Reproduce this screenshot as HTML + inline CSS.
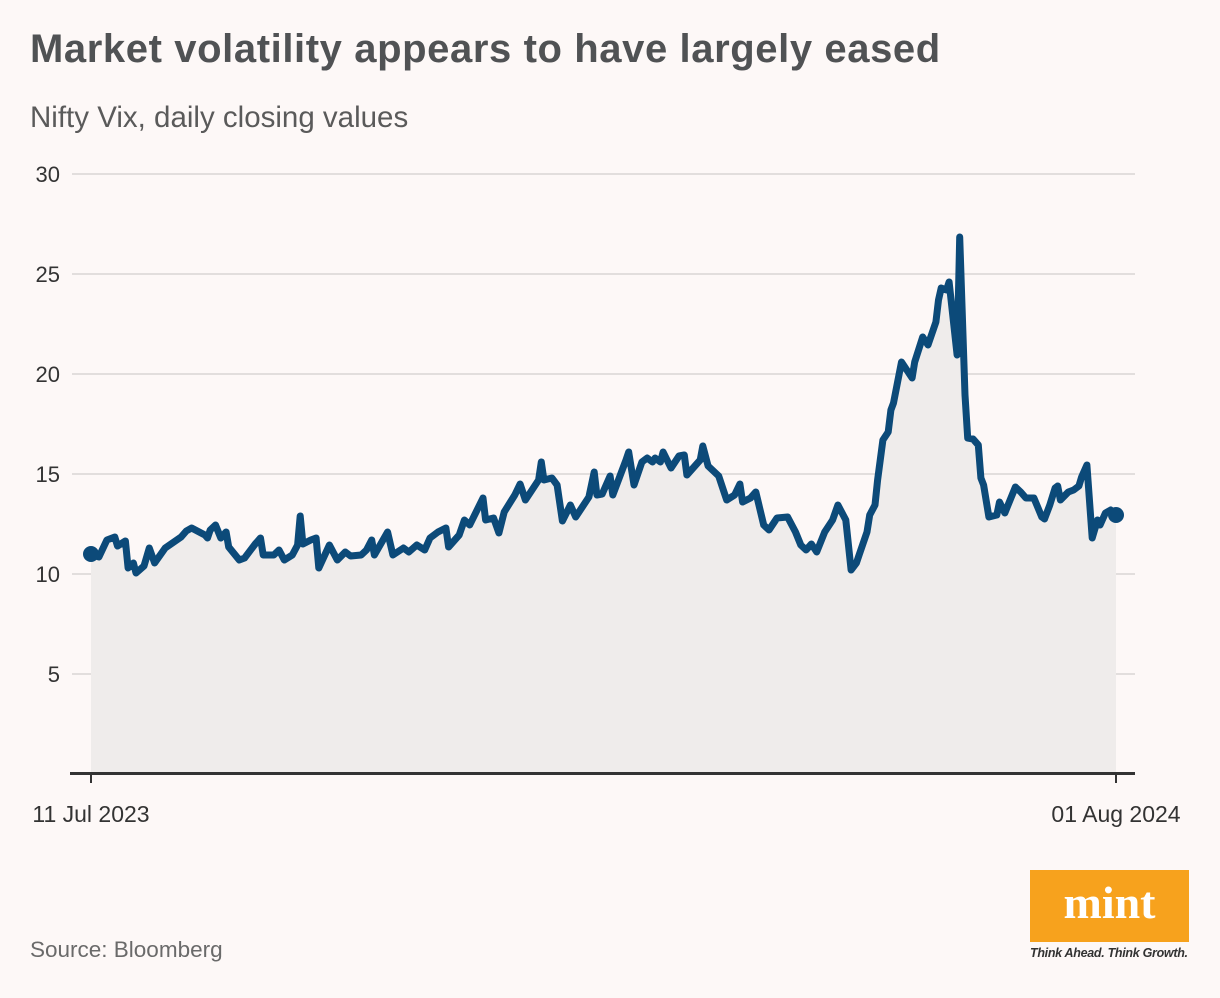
<!DOCTYPE html>
<html><head><meta charset="utf-8"><style>
body{margin:0;background:#fdf8f7;}
#root{position:relative;width:1220px;height:998px;background:#fdf8f7;font-family:"Liberation Sans",sans-serif;overflow:hidden;}
.title{position:absolute;left:30px;top:27px;font-size:40px;font-weight:bold;color:#505254;letter-spacing:0.6px;white-space:nowrap;}
.sub{position:absolute;left:30px;top:101px;font-size:29.5px;color:#5a5a5a;white-space:nowrap;}
.src{position:absolute;left:30px;top:937px;font-size:22.5px;color:#6a6a6a;}
.logo{position:absolute;left:1030px;top:870px;width:159px;height:72px;background:#f7a21d;color:#fff;font-family:"Liberation Serif",serif;font-weight:bold;font-size:46px;text-align:center;line-height:66px;}
.tag{position:absolute;left:1030px;top:946px;font-size:12.5px;font-style:italic;font-weight:bold;color:#333;white-space:nowrap;letter-spacing:-0.3px;}
</style></head><body>
<div id="root">
<div class="title">Market volatility appears to have largely eased</div>
<div class="sub">Nifty Vix, daily closing values</div>
<svg id="chart" width="1220" height="998" style="position:absolute;left:0;top:0"></svg>
<div class="src">Source: Bloomberg</div>
<div class="logo">mint</div>
<div class="tag">Think Ahead. Think Growth.</div>
</div>
<script>
const days=[0,3,6,9,10,13,14,16,17,20,22,24,28,34,36,38,43,44,45,47,49,51,52,56,58,62,64,65,69,71,73,76,78,79,80,83,85,86,90,93,96,98,102,104,106,107,112,114,118,120,123,126,128,131,134,135,139,141,143,148,149,152,154,156,160,162,164,169,170,171,174,176,178,181,183,188,190,191,193,196,197,202,203,205,208,210,212,213,215,216,219,222,224,225,230,231,233,237,239,240,243,245,246,249,251,254,256,259,263,266,268,270,272,274,277,280,282,285,287,289,290,293,294,296,297,299,301,302,303,306,308,310,311,314,316,319,320,321,323,324,327,328,330,331,333,335,336,337,339,342,343,345,349,351,353,356,359,360,362,364,365,366,369,371,373,374,376,378,380,381,383,385,387];
const vix=[11.0,10.85,11.7,11.85,11.4,11.65,10.3,10.55,10.05,10.4,11.3,10.55,11.3,11.85,12.15,12.3,11.95,11.8,12.2,12.45,11.8,12.1,11.35,10.7,10.8,11.5,11.8,10.95,10.95,11.2,10.7,10.95,11.45,12.9,11.5,11.7,11.8,10.3,11.45,10.7,11.1,10.9,10.95,11.2,11.7,10.95,12.1,10.95,11.3,11.1,11.45,11.2,11.8,12.1,12.3,11.35,11.95,12.7,12.45,13.8,12.7,12.8,12.05,13.1,13.95,14.5,13.7,14.7,15.6,14.7,14.8,14.45,12.65,13.45,12.85,13.85,15.1,13.95,14.0,14.9,13.95,15.7,16.1,14.45,15.6,15.8,15.6,15.8,15.6,16.1,15.3,15.9,15.95,14.95,15.7,16.4,15.4,14.9,14.1,13.7,13.95,14.5,13.6,13.8,14.1,12.45,12.2,12.8,12.85,12.1,11.45,11.2,11.5,11.1,12.1,12.7,13.45,12.7,10.2,10.55,10.95,12.1,12.95,13.45,14.7,16.7,17.1,18.2,18.55,20.6,20.2,19.8,20.6,21.85,21.45,22.6,23.7,24.3,24.2,24.6,20.95,26.85,18.95,16.8,16.75,16.45,14.8,14.45,12.85,12.95,13.6,13.05,14.35,14.1,13.8,13.8,12.85,12.75,13.45,14.3,14.4,13.7,14.1,14.2,14.4,14.85,15.45,11.8,12.7,12.45,13.05,13.2,12.95];
const yTicks=[5,10,15,20,25,30];
const xTickDays=[0,387];
const xTickLabels=["11 Jul 2023","01 Aug 2024"];
const X=d=>91+d*(1116-91)/387;
const Y=v=>774-v*20;
const svg=document.getElementById('chart');
const NS='http://www.w3.org/2000/svg';
function mk(t,a){const e=document.createElementNS(NS,t);for(const k in a)e.setAttribute(k,a[k]);svg.appendChild(e);return e;}
yTicks.forEach(t=>{
 const g=mk('line',{x1:72,x2:1135,y1:Y(t),y2:Y(t),stroke:'#e2dedd','stroke-width':2});
 
 
 const l=mk('text',{x:60,y:Y(t)+8,'text-anchor':'end','font-size':22,fill:'#333','font-family':'Liberation Sans, sans-serif'});
 l.textContent=t;
 
 
});
let d='';days.forEach((dd,i)=>{d+=(i?'L':'M')+X(dd).toFixed(1)+','+Y(vix[i]).toFixed(1);});
const area=mk('path',{d:d+'L'+X(days[days.length-1])+',772L'+X(days[0])+',772Z',fill:'#efeceb'});


const ln=mk('path',{d:d,fill:'none',stroke:'#0c4a79','stroke-width':7,'stroke-linejoin':'round','stroke-linecap':'round'});


[0,days.length-1].forEach(i=>{
 const c=mk('circle',{cx:X(days[i]),cy:Y(vix[i]),r:8,fill:'#0c4a79'});
 
 
});
const ax=mk('line',{x1:70,x2:1135,y1:773.5,y2:773.5,stroke:'#333','stroke-width':3});


xTickDays.forEach((t,i)=>{
 const k=mk('line',{x1:X(t),x2:X(t),y1:772,y2:783,stroke:'#333','stroke-width':2});
 
 
 const l=mk('text',{x:X(t),y:822,'text-anchor':'middle','font-size':23,fill:'#333','font-family':'Liberation Sans, sans-serif'});
 l.textContent=xTickLabels[i];
 
 
});
</script>
</body></html>
